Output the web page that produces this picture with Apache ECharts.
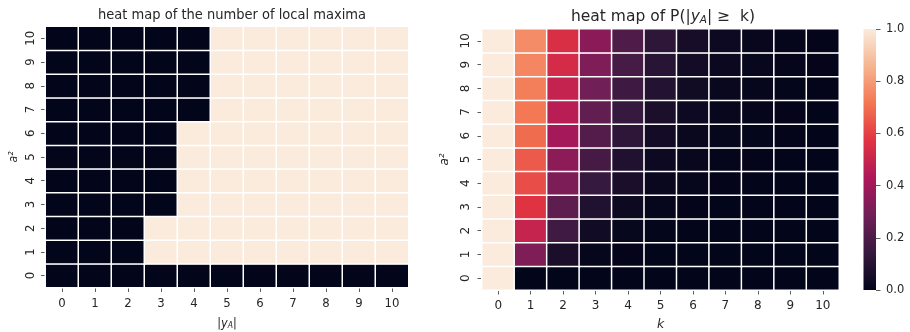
<!DOCTYPE html>
<html><head><meta charset="utf-8">
<script src="https://cdn.jsdelivr.net/npm/echarts@6/dist/echarts.min.js"></script>
<style>html,body{margin:0;padding:0;background:#fff}#c{width:910px;height:332px}</style>
</head><body><div id="c"></div><script>
const categories = ['0','1','2','3','4','5','6','7','8','9','10'];
const colorbarTicks = [0, 0.2, 0.4, 0.6, 0.8, 1.0];
const rocket = ['#03051a','#35193e','#701f57','#ad1759','#e13342','#f37651','#f6b48f','#faebdd'];

// Left: number of local maxima; rows a²=0..10, columns |y_A|=0..10
const lmA0  = [1,1,1,1,1,1,1,1,1,1,1];
const lmA1  = [1,1,1,2,2,2,2,2,2,2,2];
const lmA2  = [1,1,1,2,2,2,2,2,2,2,2];
const lmA3  = [1,1,1,1,2,2,2,2,2,2,2];
const lmA4  = [1,1,1,1,2,2,2,2,2,2,2];
const lmA5  = [1,1,1,1,2,2,2,2,2,2,2];
const lmA6  = [1,1,1,1,2,2,2,2,2,2,2];
const lmA7  = [1,1,1,1,1,2,2,2,2,2,2];
const lmA8  = [1,1,1,1,1,2,2,2,2,2,2];
const lmA9  = [1,1,1,1,1,2,2,2,2,2,2];
const lmA10 = [1,1,1,1,1,2,2,2,2,2,2];
const localMaxima = [lmA0,lmA1,lmA2,lmA3,lmA4,lmA5,lmA6,lmA7,lmA8,lmA9,lmA10];

// Right: P(|y_A| >= k); rows a²=0..10, columns k=0..10
const pA0  = [1, 0,    0,     0,     0,     0,     0,     0,     0,     0,     0];
const pA1  = [1, 0.32, 0.066, 0.009, 0.003, 0.001, 0,     0,     0,     0,     0];
const pA2  = [1, 0.495,0.167, 0.043, 0.011, 0.004, 0.001, 0,     0,     0,     0];
const pA3  = [1, 0.57, 0.242, 0.086, 0.026, 0.009, 0.003, 0.001, 0,     0,     0];
const pA4  = [1, 0.627,0.314, 0.145, 0.066, 0.02,  0.008, 0.003, 0.001, 0,     0];
const pA5  = [1, 0.654,0.354, 0.182, 0.086, 0.031, 0.013, 0.006, 0.002, 0.001, 0];
const pA6  = [1, 0.693,0.41,  0.218, 0.123, 0.049, 0.02,  0.009, 0.004, 0.002, 0.001];
const pA7  = [1, 0.72, 0.46,  0.252, 0.145, 0.069, 0.03,  0.013, 0.006, 0.003, 0.001];
const pA8  = [1, 0.735,0.492, 0.286, 0.165, 0.09,  0.04,  0.018, 0.008, 0.004, 0.002];
const pA9  = [1, 0.75, 0.535, 0.318, 0.184, 0.105, 0.048, 0.024, 0.011, 0.005, 0.002];
const pA10 = [1, 0.765,0.55,  0.35,  0.206, 0.12,  0.057, 0.03,  0.014, 0.007, 0.003];
const probRows = [pA0,pA1,pA2,pA3,pA4,pA5,pA6,pA7,pA8,pA9,pA10];

function toCells(rows){const out=[];rows.forEach((row,y)=>row.forEach((v,x)=>out.push([x,y,v])));return out;}

const txt = '#262626';
const leftFont = "'DejaVu Sans Condensed', 'DejaVu Sans', sans-serif";
const rightFont = "'DejaVu Sans', sans-serif";

function catAxis(gridIndex, isY, font, size, margin, extra){
  return Object.assign({type:'category', data:categories, gridIndex, axisLine:{show:false},
    axisTick:{show:true, alignWithLabel:true, length:4.5, lineStyle:{color:'#333', width:0.8}},
    axisLabel:{color:txt, fontFamily:font, fontSize:size, margin:margin, rotate: isY?90:0},
    splitLine:{show:false}}, extra||{});
}
const cbStops = rocket.map((c,i)=>({offset:i/(rocket.length-1), color:c}));

const chart = echarts.init(document.getElementById('c'));
chart.setOption({
  animation:false, backgroundColor:'#fff',
  title:[
    {text:'heat map of the number of local maxima', left:227, textAlign:'center', top:3,
     textStyle:{fontFamily:leftFont, fontSize:14.5, fontWeight:'normal', color:txt}},
    {text:'heat map of P(|{i|y}{s|A}| ≥  k)', left:658, textAlign:'center', top:3.5,
     textStyle:{fontFamily:rightFont, fontSize:15.5, fontWeight:'normal', color:txt,
       rich:{i:{fontFamily:rightFont, fontSize:15.5, fontStyle:'italic', color:txt},
             s:{fontFamily:rightFont, fontSize:10.5, fontStyle:'italic', color:txt, padding:[6,0,0,0]}}}}
  ],
  grid:[{left:45.5, top:26.5, width:363, height:261, outerBoundsMode:'none'},
        {left:482, top:29, width:357, height:261, outerBoundsMode:'none'},
        {left:863.5, top:29, width:12.5, height:261, outerBoundsMode:'none'}],
  xAxis:[
    catAxis(0,false,leftFont,13,10,{name:'|{i|y}{s|A}|', nameLocation:'middle', nameGap:29,
      nameTextStyle:{color:txt, fontFamily:leftFont, fontSize:12.5,
        rich:{i:{fontStyle:'italic', fontFamily:leftFont, fontSize:12.5, color:txt},
              s:{fontStyle:'italic', fontFamily:leftFont, fontSize:8.5, color:txt, padding:[5,0,0,0]}}}}),
    catAxis(1,false,rightFont,12,10,{name:'k', nameLocation:'middle', nameGap:28.5,
      nameTextStyle:{color:txt, fontFamily:rightFont, fontSize:12.5, fontStyle:'italic'}}),
    {type:'category', gridIndex:2, show:false, data:['colorbar']}
  ],
  yAxis:[
    catAxis(0,true,leftFont,13,8,{name:'a²', nameLocation:'middle', nameGap:25.5, nameRotate:90,
      nameTextStyle:{color:txt, fontFamily:leftFont, fontSize:12, fontStyle:'italic'}}),
    catAxis(1,true,rightFont,12,10,{name:'a²', nameLocation:'middle', nameGap:31, nameRotate:90,
      nameTextStyle:{color:txt, fontFamily:rightFont, fontSize:12, fontStyle:'italic'}}),
    {type:'value', gridIndex:2, position:'right', min:colorbarTicks[0], max:colorbarTicks[colorbarTicks.length-1], interval:0.2,
     axisLine:{show:false}, splitLine:{show:false},
     axisTick:{show:true, length:4.5, lineStyle:{color:'#333', width:0.8}},
     axisLabel:{color:txt, fontFamily:rightFont, fontSize:11.5, margin:10, formatter:v=>v.toFixed(1)}}
  ],
  visualMap:[
    {type:'continuous', show:false, min:1, max:2, seriesIndex:0, inRange:{color:[rocket[0], rocket[rocket.length-1]]}},
    {type:'continuous', show:false, min:0, max:1, seriesIndex:1, inRange:{color:rocket}}
  ],
  series:[
    {type:'heatmap', xAxisIndex:0, yAxisIndex:0, data:toCells(localMaxima),
     itemStyle:{borderColor:'#fff', borderWidth:1.5}, emphasis:{disabled:true}},
    {type:'heatmap', xAxisIndex:1, yAxisIndex:1, data:toCells(probRows),
     itemStyle:{borderColor:'#fff', borderWidth:1.5}, emphasis:{disabled:true}},
    {type:'bar', xAxisIndex:2, yAxisIndex:2, data:[colorbarTicks[colorbarTicks.length-1]], barWidth:'100%',
     itemStyle:{color:new echarts.graphic.LinearGradient(0,1,0,0,cbStops)}, emphasis:{disabled:true}, silent:true}
  ]
});
</script></body></html>
